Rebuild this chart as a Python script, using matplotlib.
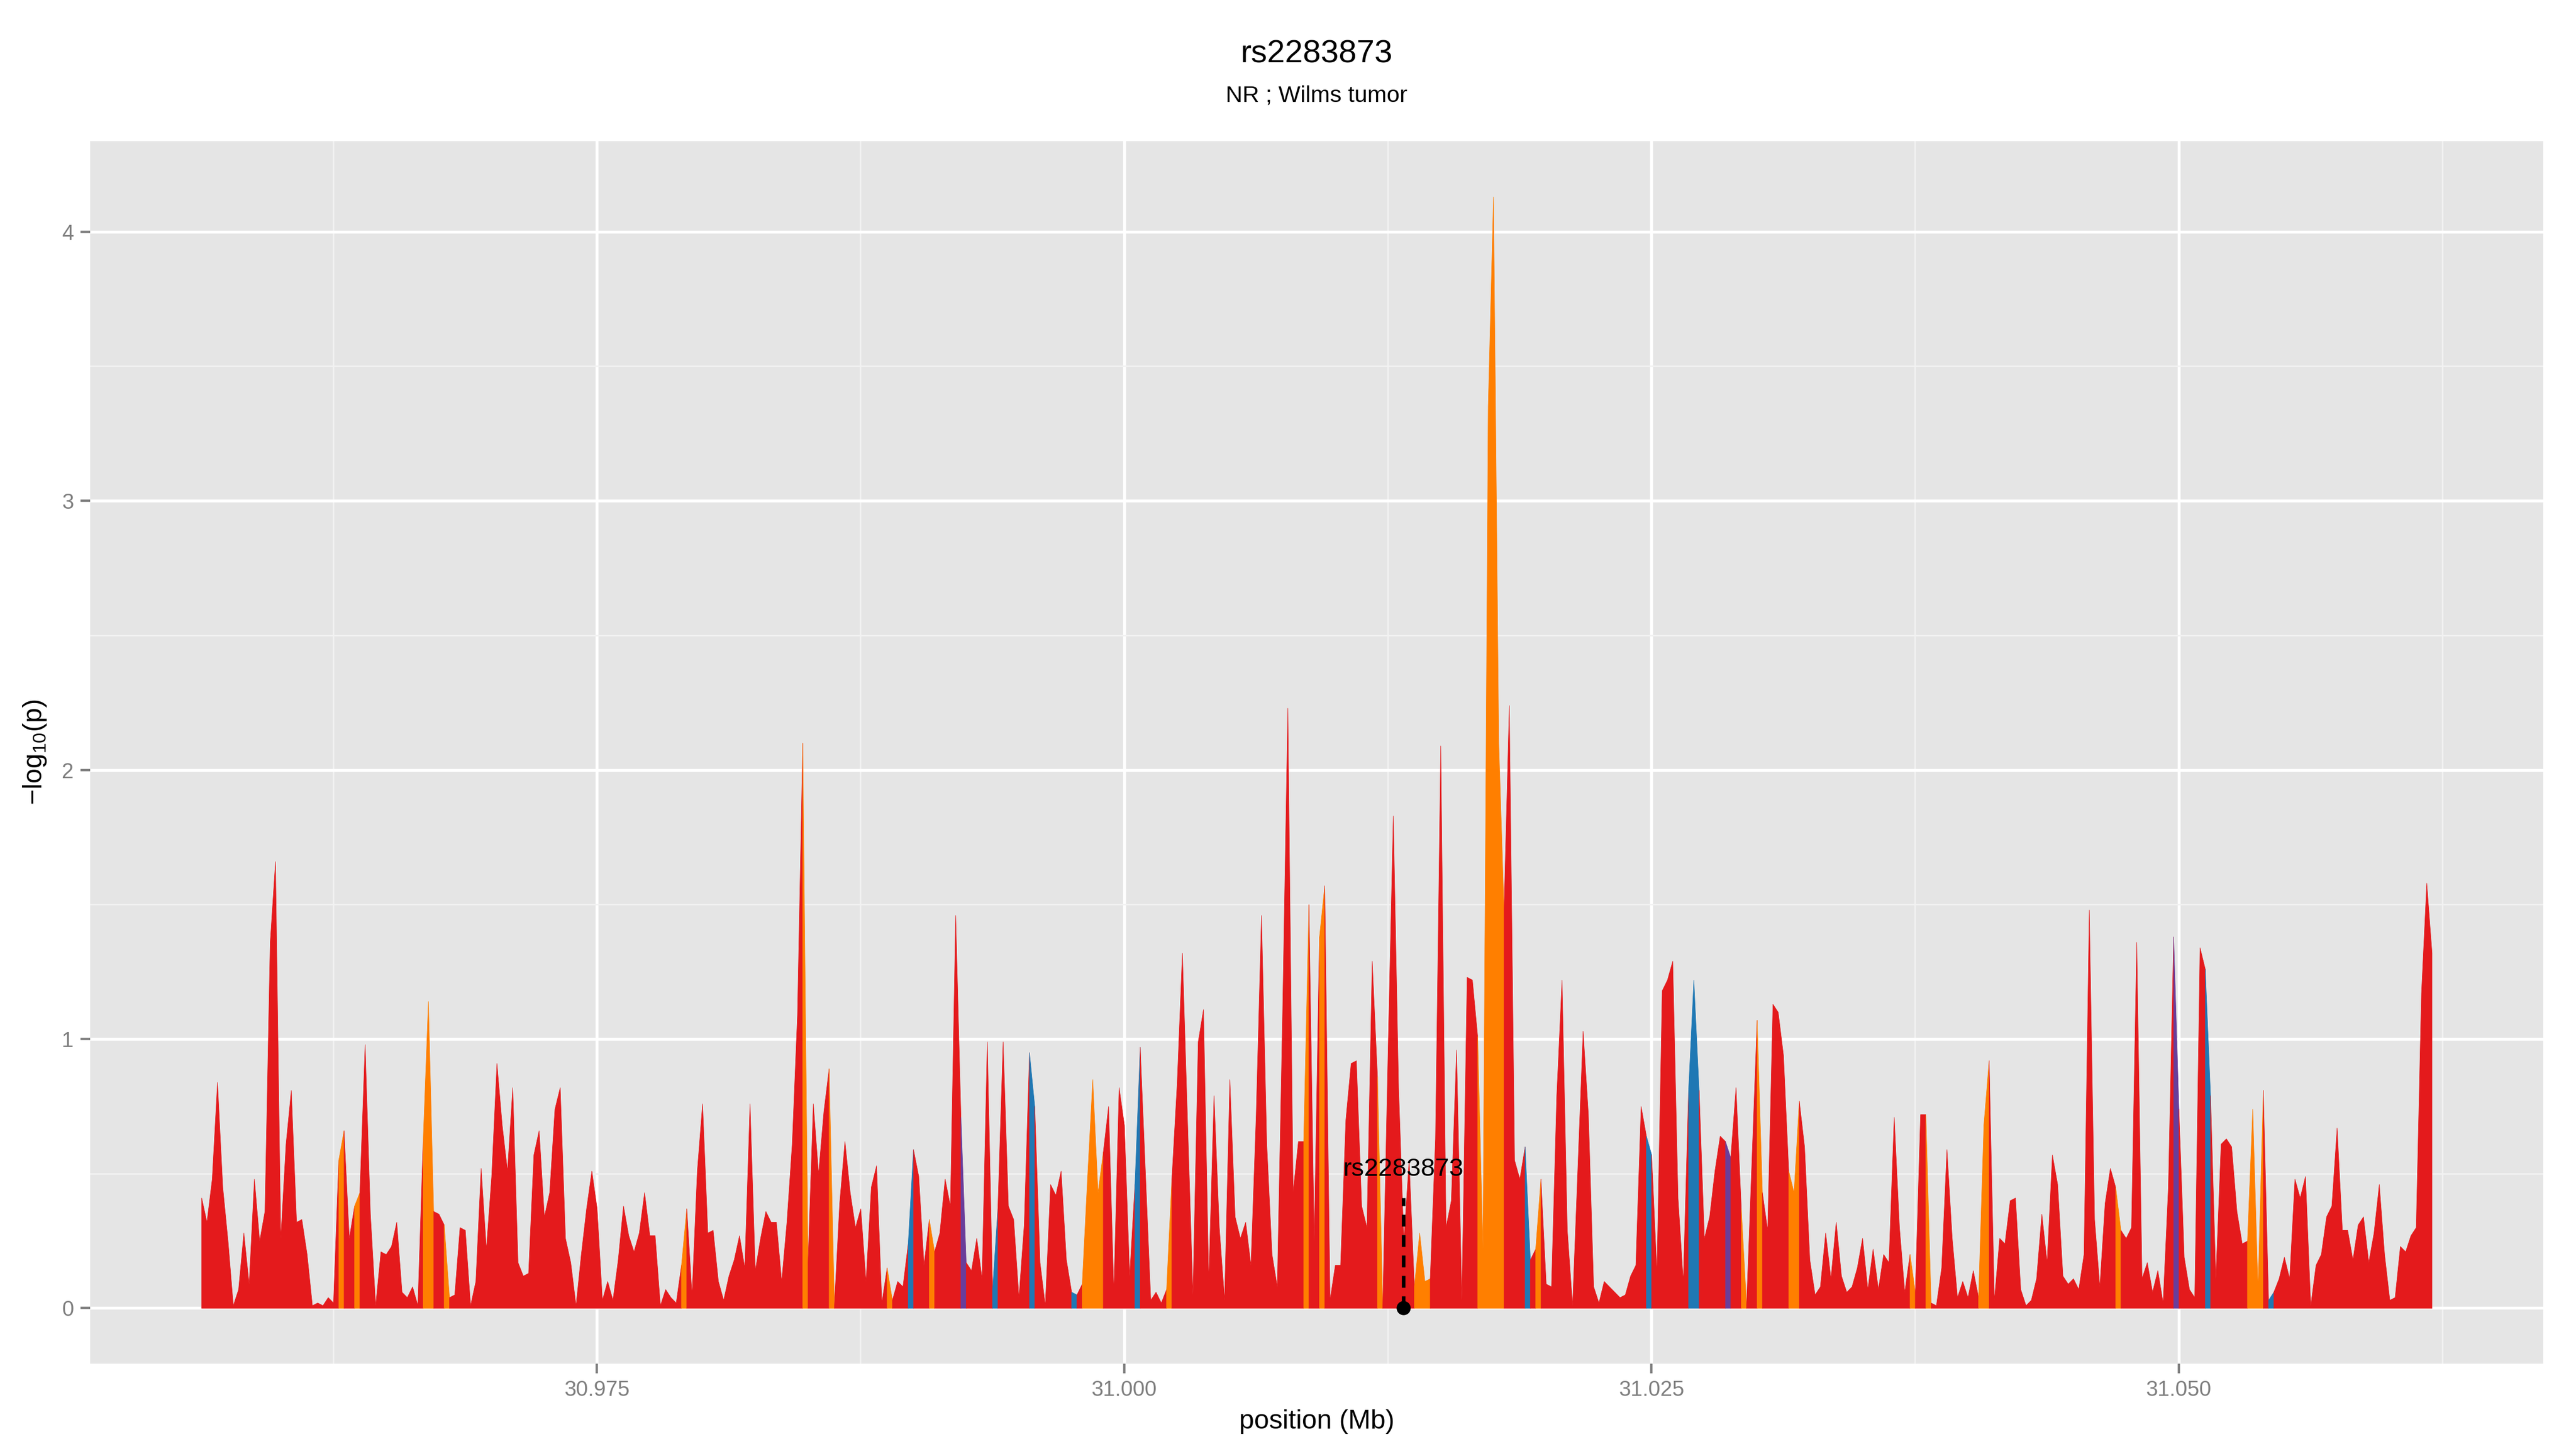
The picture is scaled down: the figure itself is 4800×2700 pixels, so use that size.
import numpy as np
import matplotlib
matplotlib.use("Agg")
import matplotlib.pyplot as plt
from matplotlib.ticker import MultipleLocator, FixedLocator

plt.rcParams['font.family'] = ['Liberation Sans', 'DejaVu Sans']
plt.rcParams['mathtext.fontset'] = 'custom'
plt.rcParams['mathtext.rm'] = 'Liberation Sans'
plt.rcParams['mathtext.it'] = 'Liberation Sans:italic'

# SNPs sit on a regular 250 bp grid
start_mb = 30.95625
step_mb = 0.00025

logp = [
    0.41, 0.32, 0.48, 0.84, 0.45, 0.25, 0.01, 0.07, 0.28, 0.09,
    0.48, 0.25, 0.36, 1.36, 1.66, 0.26, 0.61, 0.81, 0.32, 0.33,
    0.20, 0.01, 0.02, 0.01, 0.04, 0.02, 0.55, 0.66, 0.26, 0.38,
    0.43, 0.98, 0.35, 0.01, 0.21, 0.20, 0.23, 0.32, 0.06, 0.04,
    0.08, 0.01, 0.62, 1.14, 0.36, 0.35, 0.31, 0.04, 0.05, 0.30,
    0.29, 0.01, 0.10, 0.52, 0.22, 0.49, 0.91, 0.68, 0.51, 0.82,
    0.17, 0.12, 0.13, 0.57, 0.66, 0.34, 0.43, 0.74, 0.82, 0.26,
    0.17, 0.01, 0.20, 0.37, 0.51, 0.37, 0.03, 0.10, 0.03, 0.18,
    0.38, 0.27, 0.21, 0.28, 0.43, 0.27, 0.27, 0.01, 0.07, 0.04,
    0.02, 0.16, 0.37, 0.05, 0.51, 0.76, 0.28, 0.29, 0.10, 0.03,
    0.12, 0.18, 0.27, 0.15, 0.76, 0.14, 0.26, 0.36, 0.32, 0.32,
    0.10, 0.32, 0.61, 1.09, 2.10, 0.17, 0.76, 0.50, 0.73, 0.89,
    0.01, 0.39, 0.62, 0.43, 0.30, 0.37, 0.10, 0.45, 0.53, 0.02,
    0.15, 0.03, 0.10, 0.08, 0.24, 0.59, 0.49, 0.16, 0.33, 0.21,
    0.28, 0.48, 0.38, 1.46, 0.71, 0.17, 0.14, 0.26, 0.11, 0.99,
    0.07, 0.37, 0.99, 0.38, 0.33, 0.04, 0.31, 0.95, 0.75, 0.17,
    0.01, 0.46, 0.42, 0.51, 0.18, 0.06, 0.05, 0.09, 0.48, 0.85,
    0.43, 0.58, 0.75, 0.06, 0.82, 0.68, 0.12, 0.46, 0.97, 0.50,
    0.03, 0.06, 0.02, 0.07, 0.48, 0.83, 1.32, 0.68, 0.05, 0.99,
    1.11, 0.10, 0.79, 0.30, 0.03, 0.85, 0.34, 0.26, 0.32, 0.16,
    0.72, 1.46, 0.61, 0.20, 0.08, 1.09, 2.23, 0.43, 0.62, 0.62,
    1.50, 0.25, 1.38, 1.57, 0.03, 0.16, 0.16, 0.70, 0.91, 0.92,
    0.38, 0.30, 1.29, 0.86, 0.01, 0.95, 1.83, 0.82, 0.25, 0.55,
    0.08, 0.28, 0.10, 0.11, 0.63, 2.09, 0.30, 0.40, 0.96, 0.03,
    1.23, 1.22, 1.01, 0.22, 3.35, 4.13, 2.10, 1.48, 2.24, 0.55,
    0.48, 0.60, 0.18, 0.22, 0.48, 0.09, 0.08, 0.79, 1.22, 0.29,
    0.01, 0.52, 1.03, 0.72, 0.08, 0.02, 0.10, 0.08, 0.06, 0.04,
    0.05, 0.12, 0.16, 0.75, 0.64, 0.57, 0.13, 1.18, 1.22, 1.29,
    0.41, 0.10, 0.81, 1.22, 0.81, 0.26, 0.34, 0.51, 0.64, 0.62,
    0.56, 0.82, 0.37, 0.01, 0.54, 1.07, 0.43, 0.29, 1.13, 1.10,
    0.94, 0.51, 0.43, 0.77, 0.60, 0.18, 0.05, 0.08, 0.28, 0.11,
    0.32, 0.12, 0.06, 0.08, 0.15, 0.26, 0.07, 0.22, 0.07, 0.20,
    0.17, 0.71, 0.30, 0.06, 0.20, 0.06, 0.72, 0.72, 0.02, 0.01,
    0.15, 0.59, 0.26, 0.04, 0.10, 0.04, 0.14, 0.04, 0.68, 0.92,
    0.03, 0.26, 0.24, 0.40, 0.41, 0.07, 0.01, 0.03, 0.11, 0.35,
    0.17, 0.57, 0.46, 0.12, 0.09, 0.11, 0.07, 0.20, 1.48, 0.33,
    0.08, 0.39, 0.52, 0.45, 0.29, 0.26, 0.30, 1.36, 0.11, 0.17,
    0.06, 0.14, 0.02, 0.45, 1.38, 0.74, 0.19, 0.07, 0.04, 1.34,
    1.26, 0.79, 0.11, 0.61, 0.63, 0.60, 0.36, 0.24, 0.25, 0.74,
    0.07, 0.81, 0.03, 0.06, 0.11, 0.19, 0.11, 0.48, 0.41, 0.49,
    0.01, 0.16, 0.20, 0.34, 0.38, 0.67, 0.29, 0.29, 0.18, 0.31,
    0.34, 0.17, 0.28, 0.46, 0.20, 0.03, 0.04, 0.23, 0.21, 0.27,
    0.30, 1.17, 1.58, 1.32,
]

# LD class of the stretch starting at each SNP (everything else is red)
orange_segs = [26, 29, 42, 43, 46, 91, 114, 119, 130, 138, 167, 168, 169, 170,
               183, 209, 212, 223, 230, 231, 232, 242, 243, 244, 245, 246, 253,
               292, 295, 301, 302, 324, 327, 337, 338, 363, 388, 389, 390]
blue_segs = [134, 150, 157, 165, 177, 251, 274, 282, 283, 380, 392]
purple_segs = [144, 289, 374]

lead_snp = "rs2283873"
lead_pos = 31.01325
title = "rs2283873"
subtitle = "NR ; Wilms tumor"

colors = {'red': '#E41A1C', 'orange': '#FF7F00', 'blue': '#1F78B4', 'purple': '#6A3D9A'}

pos = start_mb + step_mb * np.arange(len(logp))
y = np.array(logp)

cat = ['red'] * (len(y) - 1)
for i in orange_segs:
    cat[i] = 'orange'
for i in blue_segs:
    cat[i] = 'blue'
for i in purple_segs:
    cat[i] = 'purple'

fig = plt.figure(figsize=(16, 9), dpi=300)
ax = fig.add_axes([0.0349, 0.0589, 0.9524, 0.8437])
ax.set_facecolor('#E5E5E5')

# draw runs of equal colour as single polygons
a = 0
while a < len(cat):
    b = a
    while b + 1 < len(cat) and cat[b + 1] == cat[a]:
        b += 1
    c = colors[cat[a]]
    ax.fill_between(pos[a:b + 2], y[a:b + 2], 0, facecolor=c, edgecolor=c,
                    linewidth=0.2, zorder=3)
    a = b + 1

ax.plot([lead_pos, lead_pos], [0, 0.41], color='black', lw=1.6,
        linestyle=(0, (3.3, 2.4)), zorder=5)
ax.plot([lead_pos], [0], 'o', color='black', markersize=5.3, zorder=6)
ax.text(lead_pos, 0.515, lead_snp, ha='center', va='center', fontsize=11.4,
        color='black', zorder=7)

xr = pos[-1] - pos[0]
ax.set_xlim(pos[0] - 0.05 * xr, pos[-1] + 0.05 * xr)
yr = y.max()
ax.set_ylim(-0.05 * yr, yr * 1.05)

ax.xaxis.set_major_locator(FixedLocator([30.975, 31.000, 31.025, 31.050]))
ax.xaxis.set_minor_locator(FixedLocator([30.9625, 30.9875, 31.0125, 31.0375, 31.0625]))
ax.set_xticklabels(['30.975', '31.000', '31.025', '31.050'])
ax.yaxis.set_major_locator(MultipleLocator(1))
ax.yaxis.set_minor_locator(MultipleLocator(0.5))

ax.grid(which='major', color='white', linewidth=1.3, zorder=0)
ax.grid(which='minor', color='#F2F2F2', linewidth=0.65, zorder=0)
ax.set_axisbelow(True)
for s in ax.spines.values():
    s.set_visible(False)

ax.tick_params(which='major', length=4.25, width=1.07, color='#7F7F7F',
               labelcolor='#7F7F7F', labelsize=9.6, pad=3)
ax.tick_params(which='minor', length=0)

ax.set_xlabel('position (Mb)', fontsize=12, color='black', labelpad=4)
ax.set_ylabel(r'$\mathrm{-log_{10}(p)}$', fontsize=12, color='black', labelpad=6)

fig.text(0.5 * (0.0349 + 0.9873), 0.9626, title, ha='center', va='center', fontsize=14.4)
fig.text(0.5 * (0.0349 + 0.9873), 0.934, subtitle, ha='center', va='center', fontsize=10.4)

fig.savefig('out.png', dpi=300, facecolor='white')
